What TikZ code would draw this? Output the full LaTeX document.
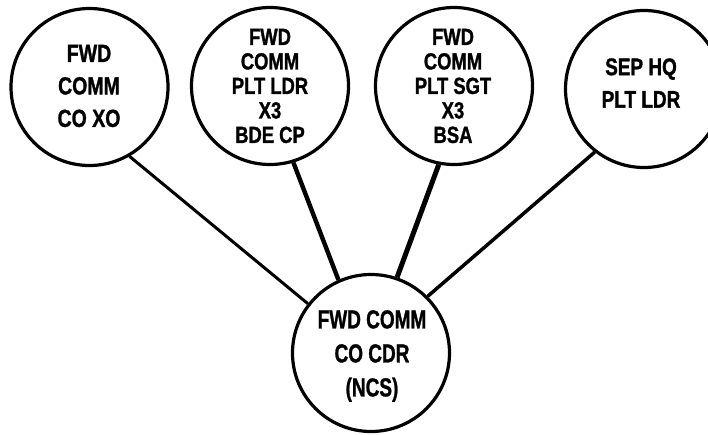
\documentclass[tikz,border=0pt]{standalone}
\usepackage{fontspec}
\newfontfamily\lblfont{Liberation Sans}[FakeStretch=0.79, BoldFeatures={FakeBold=1.2}]
\newfontfamily\ncsfont{Liberation Sans}[FakeStretch=0.73, BoldFeatures={FakeBold=1.0}]
\begin{document}
\begin{tikzpicture}[x=1pt,y=-1pt,
  station/.style={draw, circle, line width=3.2pt, minimum size=157pt, inner sep=0pt},
  lbl/.style={align=center, inner sep=0pt, font=\lblfont\bfseries},
  link/.style={line width=#1},
  link/.default=3pt]
  \clip (0,0) rectangle (708,434);
  % outstations
  \node[station] (xo)  at (89.5,87) {};
  \node[station] (ldr) at (270,86)  {};
  \node[station] (sgt) at (454,86)  {};
  \node[station] (sep) at (644,89)  {};
  % net control station
  \node[station] (ncs) at (371,353) {};
  % labels
  \node[lbl, font=\lblfont\bfseries\fontsize{24.7}{32.5}\selectfont] (txo) at (89,86) {FWD\\COMM\\CO XO};
  \node[lbl, font=\lblfont\bfseries\fontsize{23.3}{24.5}\selectfont] (tldr) at (270,86) {FWD\\COMM\\PLT LDR\\X3\\BDE CP};
  \node[lbl, font=\lblfont\bfseries\fontsize{23.3}{24.5}\selectfont] (tsgt) at (453,86) {FWD\\COMM\\PLT SGT\\X3\\BSA};
  \node[lbl, font=\lblfont\bfseries\fontsize{24}{32.5}\selectfont] (tsep) at (641,83) {SEP HQ\\PLT LDR};
  \node[lbl, font=\ncsfont\bfseries\fontsize{26}{34}\selectfont] (tncs) at (372,356) {FWD COMM\\CO CDR\\(NCS)};
  % radio links
  \draw[link=3pt]   (xo.-60)   -- (ncs.142.5);
  \draw[link=4.4pt] (ldr.-73)  -- (ncs.114);
  \draw[link=5pt]   (sgt.-101) -- (ncs.71);
  \draw[link=3.5pt] (sep.-128) -- (ncs.45.5);
\end{tikzpicture}
\end{document}
